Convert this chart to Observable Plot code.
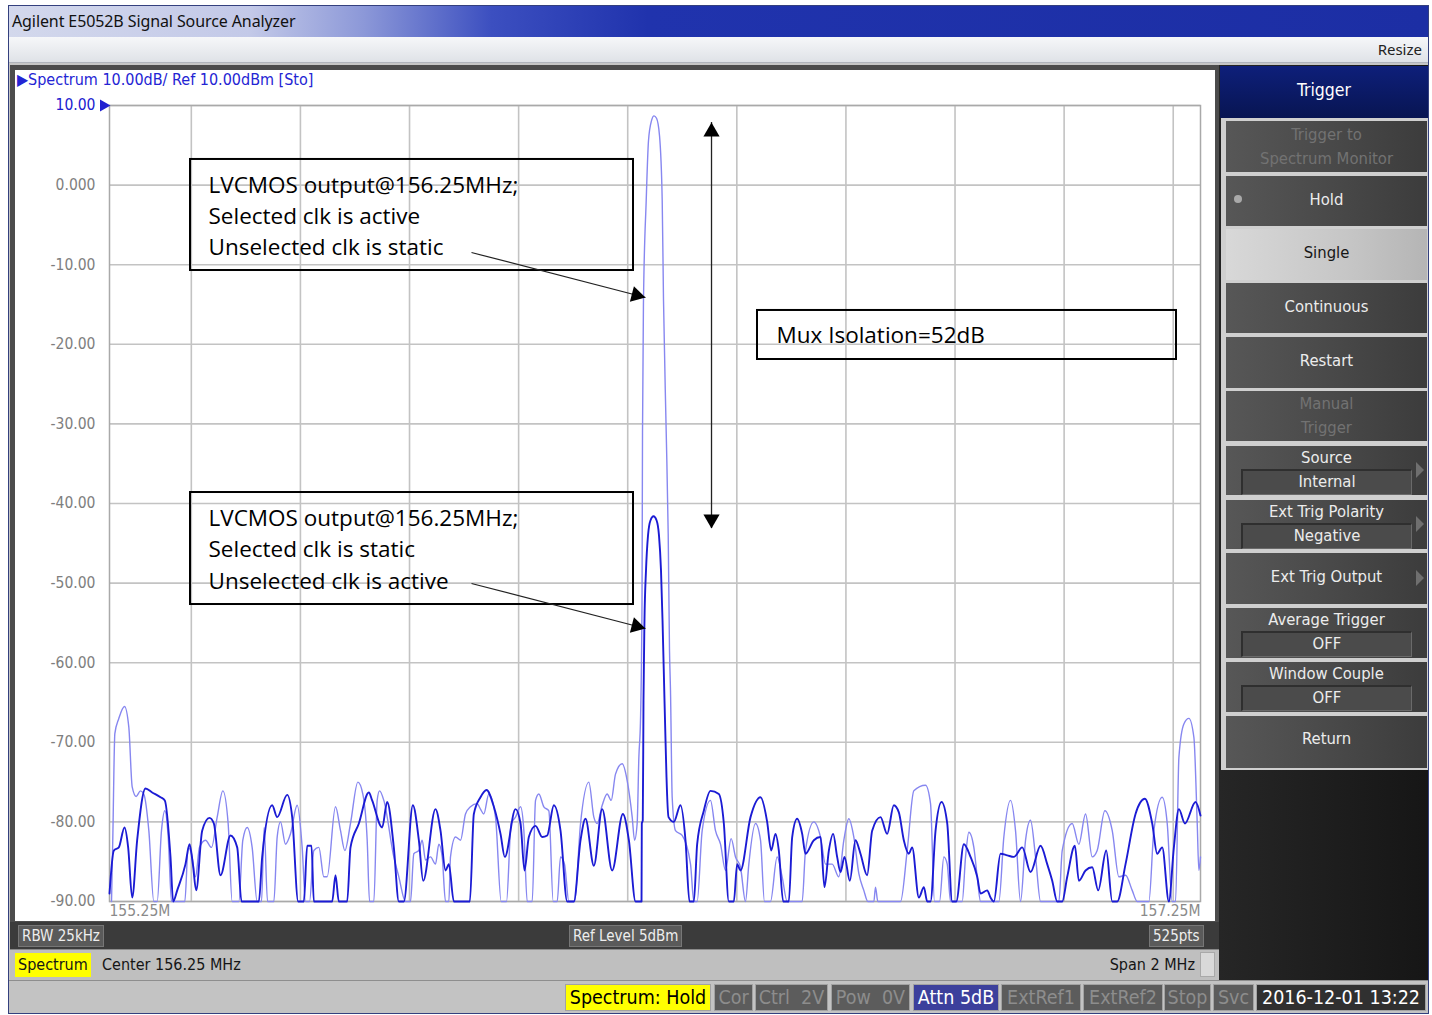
<!DOCTYPE html>
<html>
<head>
<meta charset="utf-8">
<script src="https://cdn.jsdelivr.net/npm/d3@7"></script>
<script src="https://cdn.jsdelivr.net/npm/@observablehq/plot@0.6"></script>
<style>
  html, body { margin: 0; padding: 0; }
  body { width: 1432px; height: 1015px; background: #ffffff; position: relative; overflow: hidden;
         font-family: "DejaVu Sans Condensed", "DejaVu Sans", sans-serif; font-stretch: condensed; }
  #chart svg { font-stretch: condensed; }
  #chart g[font-family*="Open Sans"], #chart g[font-family*="Open Sans"] text { font-stretch: normal; }
  .a { position: absolute; box-sizing: border-box; }
  .win { left: 8px; top: 5px; width: 1421px; height: 1009px; border: 1px solid #34407e; background: #c6c6c6; }
  .titlebar { left: 9px; top: 6px; width: 1419px; height: 31px;
     background: linear-gradient(90deg, #d3d8ec 0%, #c3c9e8 17%, #8c98d8 25%, #3c4fc0 34%, #2033ad 45%, #1c2ea4 100%); }
  .titlebar span { position: absolute; left: 3px; top: 4px; font-family: "Noto Sans", sans-serif; font-size: 16px; color: #111; font-stretch: normal; letter-spacing: -0.1px; }
  .toolbar { left: 9px; top: 37px; width: 1419px; height: 26px; background: linear-gradient(#f6f7f9, #dfe2e7); border-bottom: 1px solid #b0b4bc; }
  .toolbar span { position: absolute; right: 6px; top: 2px; font-family: "Noto Sans", sans-serif; font-size: 15px; color: #222; font-stretch: normal; }
  .chartframe { left: 10px; top: 65px; width: 1209px; height: 860px; background: #4c4c4c; }
  .chartwhite { left: 15px; top: 70px; width: 1200px; height: 851px; background: #ffffff; }
  .hdr { left: 17px; top: 70px; font-size: 16px; color: #2424d4; white-space: nowrap; }
  .darkbar { left: 10px; top: 922px; width: 1209px; height: 27px; background: #3b3b3b; }
  .lab { background: #5a5a5a; color: #eeeeee; font-size: 15px; height: 22px; line-height: 21px; padding: 0 3px; border: 1px solid #777; white-space: nowrap; }
  .graybar { left: 10px; top: 949px; width: 1209px; height: 31px; background: #bfbfbf; border-top: 1px solid #8a8a8a; }
  .gtext { font-size: 16px; color: #151515; white-space: nowrap; }
  .rightcol { left: 1219px; top: 65px; width: 209px; height: 915px; background: linear-gradient(90deg, #262626, #161616); }
  .sepcol { left: 1219px; top: 118px; width: 209px; height: 652px; background: #cfcfcf; border-left: 2px solid #222; }
  .btn { left: 1226px; width: 201px; background: linear-gradient(90deg, #575757 0%, #474747 60%, #3c3c3c 100%);
         color: #ececec; font-size: 16.5px; display: flex; flex-direction: column; align-items: center; justify-content: center; text-align: center; line-height: 25px; }
  .btn.dis { color: #727272; }
  .btn.light { background: linear-gradient(90deg, #d8d8d8 0%, #c6c6c6 60%, #b5b5b5 100%); color: #161616; }
  .sub { width: 168px; height: 23px; line-height: 22px; background: #4b4b4b; border-top: 2px solid #2f2f2f; border-left: 2px solid #2f2f2f;
         border-bottom: 1px solid #6a6a6a; border-right: 1px solid #6a6a6a; margin-left: 0px; }
  .arr { position: absolute; right: 3px; width: 0; height: 0; border-top: 8px solid transparent; border-bottom: 8px solid transparent; border-left: 8px solid #6f6f6f; }
  .trig { left: 1220px; top: 66px; width: 208px; height: 52px; background: linear-gradient(#0e1f7a, #081552); color: #fff; font-size: 17.5px;
          display: flex; align-items: center; justify-content: center; padding-bottom: 4px; }
  .status { left: 9px; top: 980px; width: 1419px; height: 33px; background: #c3c3c3; border-top: 1px solid #8e8e8e; }
  .st { top: 984px; height: 27px; line-height: 26px; font-size: 19.5px; text-align: center; background: #5c5c5c; color: #8d8d8d; border: 1px solid #a2a2a2; white-space: nowrap; overflow: hidden; }
</style>
</head>
<body>
<div class="a win"></div>
<div class="a titlebar"><span>Agilent E5052B Signal Source Analyzer</span></div>
<div class="a toolbar"><span>Resize</span></div>
<div class="a chartframe"></div>
<div class="a chartwhite"></div>
<div id="chart" class="a" style="left:15px;top:70px;"></div>
<div class="a hdr">&#9654;Spectrum 10.00dB/ Ref 10.00dBm [Sto]</div>

<div class="a darkbar"></div>
<div class="a lab" style="left:18px;top:925px;">RBW 25kHz</div>
<div class="a lab" style="left:569px;top:925px;">Ref Level 5dBm</div>
<div class="a lab" style="left:1149px;top:925px;">525pts</div>

<div class="a graybar"></div>
<div class="a gtext" style="left:15px;top:953px;height:24px;line-height:23px;background:#ffff00;padding:0 3px;">Spectrum</div>
<div class="a gtext" style="left:102px;top:955px;">Center 156.25 MHz</div>
<div class="a gtext" style="left:1000px;width:195px;text-align:right;top:955px;">Span 2 MHz</div>
<div class="a" style="left:1200px;top:952px;width:15px;height:25px;background:#d9d9d9;border:1px solid #a9a9a9;"></div>

<div class="a rightcol"></div>
<div class="a sepcol"></div>
<div class="a trig">Trigger</div>
<div class="a btn dis" style="top:121px;height:51px;line-height:24px;"><div>Trigger to</div><div>Spectrum Monitor</div></div>
<div class="a btn" style="top:176px;height:50px;padding-bottom:4px;"><div>Hold</div></div>
<div class="a" style="left:1234px;top:195px;width:8px;height:8px;border-radius:4px;background:#a9a9a9;"></div>
<div class="a btn light" style="top:229px;height:51px;padding-bottom:4px;"><div>Single</div></div>
<div class="a btn" style="top:283px;height:50px;padding-bottom:4px;"><div>Continuous</div></div>
<div class="a btn" style="top:337px;height:51px;padding-bottom:4px;"><div>Restart</div></div>
<div class="a btn dis" style="top:391px;height:50px;line-height:24px;"><div>Manual</div><div>Trigger</div></div>
<div class="a btn" style="top:446px;height:49px;line-height:22px;"><div>Source</div><div class="sub">Internal</div><span class="arr" style="top:16px;"></span></div>
<div class="a btn" style="top:500px;height:49px;line-height:22px;"><div>Ext Trig Polarity</div><div class="sub">Negative</div><span class="arr" style="top:16px;"></span></div>
<div class="a btn" style="top:553px;height:51px;padding-bottom:4px;"><div>Ext Trig Output</div><span class="arr" style="top:17px;"></span></div>
<div class="a btn" style="top:608px;height:50px;line-height:22px;"><div>Average Trigger</div><div class="sub">OFF</div></div>
<div class="a btn" style="top:662px;height:50px;line-height:22px;"><div>Window Couple</div><div class="sub">OFF</div></div>
<div class="a btn" style="top:716px;height:52px;padding-bottom:8px;"><div>Return</div></div>

<div class="a status"></div>
<div class="a st" style="left:565px;width:146px;background:#ffff00;color:#000;">Spectrum: Hold</div>
<div class="a st" style="left:714px;width:39px;">Cor</div>
<div class="a st" style="left:755px;width:73px;">Ctrl&nbsp;&nbsp;2V</div>
<div class="a st" style="left:831px;width:79px;">Pow&nbsp;&nbsp;0V</div>
<div class="a st" style="left:913px;width:86px;background:#3c409c;color:#ffffff;">Attn 5dB</div>
<div class="a st" style="left:1001px;width:80px;">ExtRef1</div>
<div class="a st" style="left:1083px;width:80px;">ExtRef2</div>
<div class="a st" style="left:1164px;width:47px;">Stop</div>
<div class="a st" style="left:1213px;width:41px;">Svc</div>
<div class="a st" style="left:1256px;width:170px;background:#303030;color:#ffffff;">2016-12-01 13:22</div>

<script>
// ---- axis / scale definitions ----
const startMHz = 155.25;
const stopMHz = 157.25;
const refLevel = 10;
const bottomLevel = -90;
const yTickValues = [10, 0, -10, -20, -30, -40, -50, -60, -70, -80, -90];
const yTickLabels = ["10.00", "0.000", "-10.00", "-20.00", "-30.00", "-40.00", "-50.00", "-60.00", "-70.00", "-80.00", "-90.00"];
const xGridMHz = [155.4, 155.6, 155.8, 156.0, 156.2, 156.4, 156.6, 156.8, 157.0, 157.2];
const xEdgeLabels = ["155.25M", "157.25M"];

// ---- trace 1: "Selected clk is active" (light blue), [offset from start in kHz, dBm] ----
const activeTrace = [
  [3.7,-90],[6.1,-81.9],[9.8,-68.9],[17.1,-67.0],[27.5,-65.5],[35.4,-68.1],[41.6,-75.6],[48.9,-76.8],[56.8,-76.1],[62.9,-76.5],
  [72.1,-81.1],[81.3,-90],[87.4,-90],[95.3,-81.1],[101.4,-78.6],[107.6,-81.9],[113.7,-90],[138.1,-90],[144.2,-83.2],[150.3,-84.0],
  [157.7,-86.9],[165.0,-83.2],[176.0,-82.3],[187.0,-83.2],[197.4,-79.4],[207.8,-76.1],[217.5,-80.2],[224.9,-90],[237.1,-90],[244.4,-82.3],
  [252.4,-80.7],[261.5,-83.2],[270.7,-90],[278.7,-90],[283.5,-80.7],[289.7,-90],[301.3,-90],[307.4,-81.9],[313.5,-80.0],[322.7,-82.8],
  [331.8,-81.5],[344.1,-77.9],[353.2,-83.2],[359.3,-90],[366.7,-90],[374.6,-83.6],[383.8,-83.2],[392.9,-86.9],[399.0,-86.9],[414.3,-78.1],
  [423.5,-81.1],[431.4,-83.6],[441.8,-80.2],[455.3,-75.0],[464.4,-76.5],[472.4,-82.3],[476.7,-90],[484.6,-90],[490.7,-77.3],[495.0,-76.1],
  [502.9,-77.3],[521.2,-84.4],[530.4,-86.9],[542.6,-90],[551.8,-90],[557.9,-84.0],[567.1,-83.6],[573.2,-82.3],[579.3,-84.8],[588.5,-84.4],
  [597.6,-85.3],[603.7,-82.8],[609.9,-84.4],[616.0,-90],[622.1,-90],[625.1,-84.4],[634.3,-81.9],[643.5,-82.3],[652.6,-79.0],[661.8,-78.1],
  [674.0,-77.7],[680.1,-78.4],[686.2,-79.0],[695.4,-76.5],[707.6,-79.4],[718.0,-90],[727.8,-90],[736.3,-80.2],[744.3,-79.4],[753.5,-78.1],
  [759.6,-81.1],[765.7,-90],[774.9,-90],[781.0,-77.3],[787.1,-76.5],[796.2,-78.1],[805.4,-78.6],[813.4,-90],[820.7,-90],[826.8,-84.4],
  [834.1,-85.3],[842.1,-90],[852.5,-90],[863.5,-80.2],[878.7,-75.0],[887.9,-79.4],[894.0,-80.2],[903.2,-77.9],[912.3,-76.5],[919.7,-77.3],
  [927.6,-74.0],[939.8,-72.7],[949.0,-74.8],[958.2,-79.4],[962.5,-82.3],[967.3,-80.2],[970.4,-71.9],
  [973.4,-67.3],[976.2,-52.2],[977.1,-31.2],[978.9,-14.5],[983.9,-1.9],[988.1,5.6],[993.6,8.1],[998.2,8.7],[1002.8,8.4],[1008.3,6.2],
  [1013.2,-1.9],[1015.6,-14.5],[1020.6,-31.2],[1024.2,-43.8],[1026.6,-58.5],[1028.4,-63.5],
  [1031.5,-76.9],[1037.6,-81.1],[1049.8,-81.7],[1065.1,-85.3],[1071.2,-90],[1077.3,-90],[1086.5,-81.1],[1101.7,-77.3],[1110.9,-81.1],[1120.1,-82.8],
  [1129.2,-86.1],[1139.6,-82.1],[1147.6,-84.4],[1156.7,-85.7],[1165.9,-90],[1172.0,-85.3],[1184.2,-80.2],[1193.4,-82.3],[1200.7,-90],[1211.7,-90],
  [1223.9,-84.4],[1233.1,-86.9],[1242.3,-90],[1269.8,-90],[1275.9,-83.6],[1291.2,-80.0],[1303.4,-81.9],[1312.6,-85.3],[1324.8,-85.3],[1337.0,-86.9],
  [1346.2,-82.3],[1355.3,-79.6],[1364.5,-81.9],[1373.7,-86.5],[1382.8,-88.6],[1390.2,-90],[1401.2,-90],[1404.2,-88.2],[1408.5,-90],[1450.1,-90],
  [1462.3,-83.6],[1474.5,-76.1],[1495.9,-75.4],[1505.1,-77.7],[1512.4,-90],[1521.6,-90],[1529.5,-84.4],[1535.7,-85.3],[1541.8,-90],[1563.2,-90],
  [1569.3,-84.4],[1575.4,-81.3],[1584.5,-83.2],[1590.7,-86.9],[1596.8,-90],[1630.4,-90],[1639.5,-81.9],[1651.8,-77.3],[1660.9,-81.1],[1670.1,-90],
  [1679.3,-82.3],[1688.4,-79.8],[1697.6,-84.4],[1706.8,-90],[1740.4,-90],[1746.5,-83.6],[1764.8,-80.2],[1777.0,-82.8],[1789.3,-79.0],[1801.5,-84.4],
  [1810.6,-83.6],[1824.7,-78.6],[1838.2,-81.1],[1850.4,-86.9],[1862.6,-86.7],[1874.8,-88.6],[1884.0,-90],[1905.4,-90],[1914.5,-81.1],[1929.8,-76.9],
  [1939.0,-80.2],[1948.1,-90],[1954.3,-90],[1960.4,-71.9],[1969.5,-67.7],[1978.7,-67.0],[1987.9,-69.4],[1994.0,-80.2],[1997.0,-86.1],[2000.0,-84.4]
];

// ---- trace 2: "Selected clk is static" (dark blue), [offset from start in kHz, dBm] ----
const staticTrace = [
  [0.0,-89.0],[7.9,-83.6],[17.1,-83.2],[27.5,-80.7],[34.2,-83.2],[41.6,-89.5],[50.7,-82.3],[66.0,-75.8],[78.2,-76.3],[93.5,-76.9],
  [101.4,-77.3],[111.8,-84.4],[116.7,-90],[124.1,-88.6],[139.3,-85.3],[146.7,-82.8],[152.8,-85.3],[158.9,-88.6],[169.9,-81.1],[183.3,-79.5],
  [191.3,-80.2],[203.5,-86.7],[221.8,-81.7],[234.1,-83.2],[242.0,-90],[273.8,-90],[279.9,-84.4],[298.2,-77.9],[307.4,-79.4],[325.7,-76.6],
  [334.9,-79.4],[345.9,-90],[356.3,-90],[362.4,-83.0],[370.3,-83.0],[374.6,-90],[408.2,-90],[414.3,-86.7],[420.4,-90],[435.7,-90],
  [441.8,-83.2],[457.1,-80.2],[475.4,-76.3],[481.5,-77.3],[499.9,-80.7],[509.0,-77.5],[521.2,-83.2],[530.4,-90],[539.6,-90],[556.1,-77.9],
  [567.1,-82.3],[575.0,-87.4],[597.6,-78.4],[606.8,-81.1],[616.0,-86.1],[622.1,-85.3],[631.2,-90],[660.6,-90],[667.9,-79.0],[680.1,-76.9],
  [691.1,-76.0],[704.6,-78.1],[716.8,-81.5],[724.7,-84.4],[744.3,-78.4],[753.5,-80.2],[760.8,-86.1],[768.7,-81.9],[781.0,-80.5],[793.2,-81.9],
  [802.4,-81.7],[814.6,-77.9],[826.8,-81.1],[839.0,-90],[851.2,-90],[863.5,-82.3],[872.6,-79.6],[887.9,-85.5],[903.2,-78.4],[921.5,-86.1],
  [941.1,-79.0],[952.1,-82.3],[964.3,-90],[975.3,-90],
  [975.8,-80.2],[977.6,-79.8],[978.9,-64.7],[980.7,-54.7],[983.5,-48.4],[987.2,-44.0],[991.8,-42.1],[997.3,-41.6],[1002.8,-42.1],[1007.3,-44.0],
  [1011.0,-48.4],[1013.8,-54.7],[1017.4,-64.7],[1019.3,-69.8],[1021.1,-74.4],[1024.8,-79.4],
  [1034.5,-80.0],[1046.7,-77.9],[1055.9,-82.3],[1063.2,-90],[1071.2,-90],[1077.3,-82.8],[1089.5,-78.6],[1101.7,-76.1],[1117.0,-76.5],[1126.2,-80.2],
  [1135.3,-90],[1144.5,-90],[1150.6,-85.3],[1156.7,-86.1],[1175.1,-79.4],[1193.4,-76.9],[1205.6,-80.0],[1213.0,-83.6],[1220.9,-81.5],[1227.0,-83.6],
  [1235.0,-90],[1245.3,-90],[1251.5,-81.9],[1260.6,-79.6],[1269.8,-81.5],[1275.9,-84.0],[1291.2,-82.3],[1303.4,-81.9],[1310.7,-88.2],[1318.7,-83.6],
  [1326.6,-81.5],[1333.9,-84.4],[1340.1,-86.3],[1347.4,-84.4],[1357.2,-87.4],[1367.5,-82.3],[1376.7,-84.0],[1388.9,-86.7],[1398.1,-81.1],[1413.4,-79.4],
  [1425.6,-81.5],[1437.8,-77.9],[1447.0,-78.8],[1456.1,-82.3],[1465.3,-84.0],[1471.4,-83.2],[1483.7,-89.5],[1492.9,-88.2],[1499.0,-90],[1505.1,-90],
  [1514.3,-81.1],[1525.3,-77.5],[1535.7,-80.2],[1544.8,-90],[1552.2,-90],[1566.2,-82.8],[1578.4,-84.4],[1590.7,-86.9],[1596.8,-89.0],[1609.0,-88.6],
  [1615.1,-89.5],[1621.2,-90],[1633.4,-84.0],[1645.7,-84.2],[1657.9,-84.4],[1673.2,-83.2],[1688.4,-86.3],[1706.8,-83.0],[1719.0,-85.3],[1728.2,-87.4],
  [1737.3,-90],[1746.5,-90],[1755.7,-86.9],[1769.7,-83.0],[1777.0,-87.4],[1789.3,-86.1],[1801.5,-85.7],[1812.5,-88.6],[1827.2,-83.6],[1838.2,-90],
  [1847.3,-90],[1862.6,-85.3],[1880.9,-79.0],[1898.0,-77.1],[1911.5,-80.2],[1920.6,-84.0],[1929.8,-83.2],[1942.0,-90],[1951.2,-83.2],[1960.4,-78.4],
  [1971.4,-80.2],[1990.9,-77.5],[2000.0,-79.2]
];

// ---- annotations (frequency in MHz, level in dBm) ----
const noteBoxes = [
  {x1: 155.3985, x2: 156.2106, y1: 3.22, y2: -10.73},
  {x1: 155.3985, x2: 156.2106, y1: -38.62, y2: -52.69},
  {x1: 156.4379, x2: 157.2060, y1: -15.75, y2: -21.91}
];
const noteLines = [
  {f: 155.4315, db: -0.05, text: "LVCMOS output@156.25MHz;"},
  {f: 155.4315, db: -3.94, text: "Selected clk is active"},
  {f: 155.4315, db: -7.84, text: "Unselected clk is static"},
  {f: 155.4315, db: -41.9, text: "LVCMOS output@156.25MHz;"},
  {f: 155.4315, db: -45.8, text: "Selected clk is static"},
  {f: 155.4315, db: -49.8, text: "Unselected clk is active"},
  {f: 156.4727, db: -18.9, text: "Mux Isolation=52dB"}
];
const pointers = [
  {f1: 155.9136, d1: -8.47, f2: 156.2325, d2: -14.12, angle: 104.5},
  {f1: 155.9136, d1: -50.05, f2: 156.2325, d2: -55.70, angle: 104.5}
];
const isolation = {f: 156.3536, top: 7.86, bottom: -43.14};

// ---- build tables ----
const toRows = (arr) => arr.map(([k, db]) => ({f: startMHz + k / 1000, db}));
const activeRows = toRows(activeTrace);
const staticRows = toRows(staticTrace);
const tickRows = yTickValues.map((v, i) => ({v, label: yTickLabels[i]}));

const heads = [
  ...pointers.map(p => ({f: p.f2, db: p.d2, angle: p.angle})),
  {f: isolation.f, db: isolation.top, angle: 0},
  {f: isolation.f, db: isolation.bottom, angle: 180}
];
const headR = 6;
const headOff = 1.555 * headR;
const headMarks = heads.map(h => {
  const rad = h.angle * Math.PI / 180;
  return Plot.dot([h], {x: "f", y: "db", symbol: "triangle", r: headR, fill: "#000", stroke: "none",
    rotate: h.angle, dx: -Math.sin(rad) * headOff, dy: Math.cos(rad) * headOff});
});

const uiFont = "'DejaVu Sans Condensed','DejaVu Sans',sans-serif";
const noteFont = "'Open Sans','Noto Sans',sans-serif";

const chart = Plot.plot({
  width: 1200,
  height: 851,
  marginLeft: 94,
  marginRight: 15,
  marginTop: 35,
  marginBottom: 20,
  x: {domain: [startMHz, stopMHz], axis: null},
  y: {domain: [bottomLevel, refLevel], axis: null},
  style: {background: "transparent", fontFamily: uiFont, overflow: "visible"},
  marks: [
    Plot.ruleX(xGridMHz, {stroke: "#c3c3c3", strokeWidth: 1.6}),
    Plot.ruleY(yTickValues, {stroke: "#c3c3c3", strokeWidth: 1.6}),
    Plot.frame({stroke: "#a9a9a9", strokeWidth: 1.5}),
    Plot.line(activeRows, {x: "f", y: "db", stroke: "#8787f0", strokeWidth: 1.4, curve: "monotone-x"}),
    Plot.line(staticRows, {x: "f", y: "db", stroke: "#1b1bd4", strokeWidth: 1.9, curve: "monotone-x"}),
    Plot.rect(noteBoxes, {x1: "x1", x2: "x2", y1: "y1", y2: "y2", fill: "none", stroke: "#000", strokeWidth: 2}),
    Plot.text(noteLines, {x: "f", y: "db", text: "text", textAnchor: "start", fontSize: 22.5, fontFamily: noteFont, fill: "#000"}),
    Plot.link(pointers, {x1: "f1", y1: "d1", x2: "f2", y2: "d2", stroke: "#222", strokeWidth: 1.2}),
    Plot.ruleX([isolation], {x: "f", y1: "top", y2: "bottom", stroke: "#222", strokeWidth: 1.3}),
    ...headMarks,
    Plot.text(tickRows.filter(d => d.v !== refLevel), {frameAnchor: "left", y: "v", text: "label", textAnchor: "end", dx: -14, fontSize: 15.5, fill: "#7e7e7e"}),
    Plot.text(tickRows.filter(d => d.v === refLevel), {frameAnchor: "left", y: "v", text: "label", textAnchor: "end", dx: -14, fontSize: 15.5, fill: "#2020d0"}),
    Plot.dot([{f: startMHz, db: refLevel}], {x: "f", y: "db", symbol: "triangle", r: 4.5, rotate: 90, fill: "#2020d0", stroke: "none", dx: -6}),
    Plot.text([xEdgeLabels[0]], {frameAnchor: "bottom-left", text: d => d, textAnchor: "start", dy: 14, fontSize: 15.5, fill: "#8a8a8a"}),
    Plot.text([xEdgeLabels[1]], {frameAnchor: "bottom-right", text: d => d, textAnchor: "end", dy: 14, fontSize: 15.5, fill: "#8a8a8a"})
  ]
});
document.getElementById("chart").appendChild(chart);
</script>
</body>
</html>
